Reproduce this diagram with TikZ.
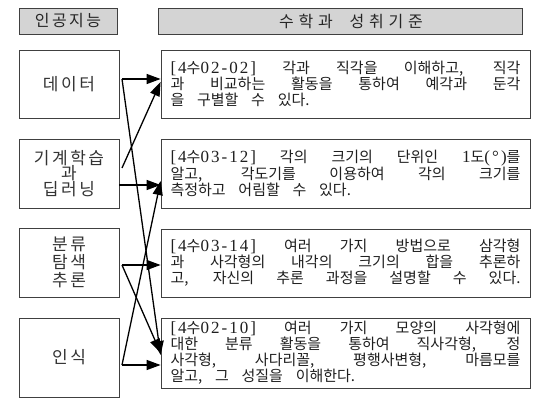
\documentclass[tikz,border=0pt]{standalone}
\usepackage{fontspec}
\usetikzlibrary{arrows.meta,calc}
\newfontfamily\kr{Noto Sans CJK KR}[WordSpace=3.8]
\newfontfamily\krw{Noto Sans CJK KR}[LetterSpace=15]
\newfontfamily\krh{Noto Sans CJK KR}[LetterSpace=30,WordSpace=2]
\newfontfamily\lat{Liberation Serif}[LetterSpace=12]
\newcommand\jline[1]{\makebox[350pt][s]{#1}}
\newcommand\lline[1]{\makebox[350pt][l]{#1}}
\newcommand\latf{\lat\fontsize{17}{17}\selectfont}
\newcommand\stdcode[2]{{\latf[4}수{\latf#1-#2]}}
\begin{document}
\begin{tikzpicture}[x=1pt,y=-1pt,
  box/.style={draw=black!75,line width=0.8pt,inner sep=0pt},
  aibox/.style={box,minimum width=100pt,minimum height=68pt,align=center,font=\krw\fontsize{17}{15.5}\selectfont,text=black!80},
  stdbox/.style={box,minimum width=369pt,minimum height=68pt,align=left,font=\kr\fontsize{15}{16}\selectfont,text=black!88},
  head/.style={box,fill=black!17,minimum height=26pt,text=black!85},
  link/.style={-{Triangle[length=14pt,width=10pt]},line width=1.3pt}]
\useasboundingbox (0,0) rectangle (533,398);
\fill[white] (0,0) rectangle (533,398);

\node[head,minimum width=98pt,font=\krw\fontsize{16}{16}\selectfont] (h1) at (68,21) {인공지능};
\node[head,minimum width=364pt,font=\krh\fontsize{16}{16}\selectfont] (h2) at (340,21) {\hspace*{22pt}수학과 성취기준};

\node[aibox] (data) at (69,84) {데이터};
\node[aibox,minimum height=69pt] (ml) at (69,173.5) {기계학습\\과\\딥러닝};
\node[aibox,minimum height=69pt] (cls) at (69,262.5) {\raisebox{-3pt}{\shortstack{분류\\[0pt]탐색\\[0pt]추론}}};
\node[aibox,minimum height=79pt] (rec) at (69,357.5) {\raisebox{-5pt}{인식}};

\node[stdbox] (s1) at (345.5,84) {\jline{\stdcode{02}{02} 각과 직각을 이해하고, 직각}\\ \jline{과 비교하는 활동을 통하여 예각과 둔각}\\ \lline{을 구별할 수 있다.}};
\node[stdbox,minimum height=69pt] (s2) at (345.5,173.5) {\jline{\stdcode{03}{12} 각의 크기의 단위인 {\latf 1}도{\latf (°)}를}\\ \jline{알고, 각도기를 이용하여 각의 크기를}\\ \lline{측정하고 어림할 수 있다.}};
\node[stdbox] (s3) at (345.5,263) {\jline{\stdcode{03}{14} 여러 가지 방법으로 삼각형}\\ \jline{과 사각형의 내각의 크기의 합을 추론하}\\ \jline{고, 자신의 추론 과정을 설명할 수 있다.}};
\node[stdbox,minimum height=70pt] (s4) at (345.5,353) {\jline{\stdcode{02}{10} 여러 가지 모양의 사각형에}\\ \jline{대한 분류 활동을 통하여 직사각형, 정}\\ \jline{사각형, 사다리꼴, 평행사변형, 마름모를}\\ \lline{알고, 그 성질을 이해한다.}};

\coordinate (dout) at (122,79);
\coordinate (mlout) at (122,168);
\coordinate (mlout2) at (ml.east |- 0,185);
\coordinate (clsout) at (122,265);
\coordinate (recout) at (122,365);

\draw[link] (dout) -- (s1.west |- dout);
\draw[link] (dout) -- (s4.west |- 0,355);
\draw[link] (mlout) -- (s1.west |- 0,82);
\draw[link] (mlout2) -- (s2.west |- mlout2);
\draw[link] (clsout) -- (s3.west |- clsout);
\draw[link] (clsout) -- (s4.west |- 0,353);
\draw[link] (recout) -- (s2.west |- 0,181);
\draw[link] (recout) -- (s4.west |- recout);
\end{tikzpicture}
\end{document}
